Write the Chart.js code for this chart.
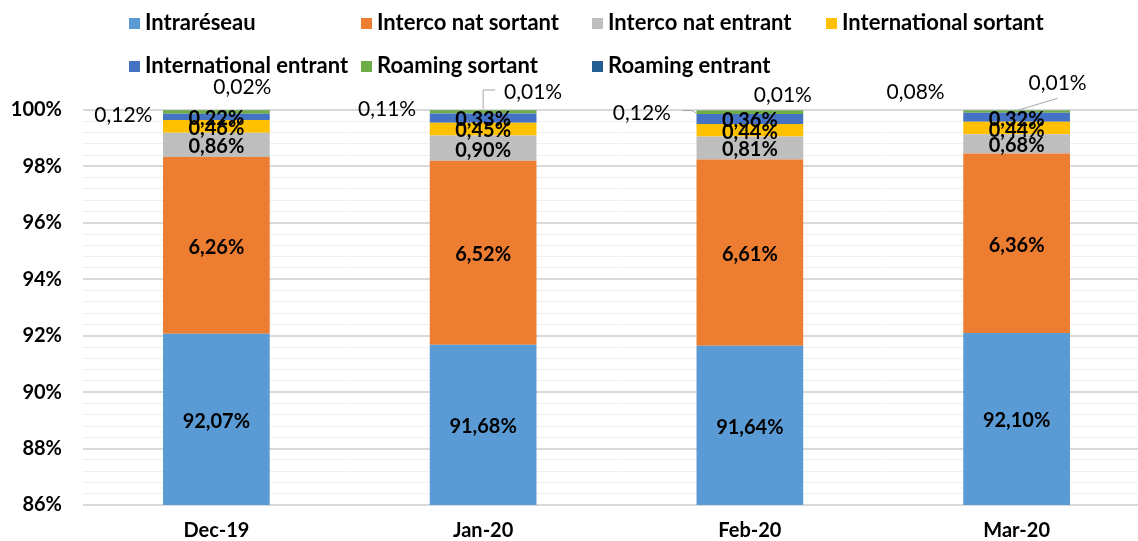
<!DOCTYPE html>
<html>
<head>
<meta charset="utf-8">
<script src="https://cdn.jsdelivr.net/npm/chart.js@4.4.0/dist/chart.umd.min.js"></script>
<style>
  html, body { margin: 0; padding: 0; background: #fff; overflow: hidden; }
  #wrap { width: 1138px; height: 541px; overflow: hidden; position: relative; }
  #box { width: 1150px; height: 541px; position: absolute; left: 0; top: 0; }
</style>
</head>
<body>
<div id="wrap"><div id="box"><canvas id="c" width="1150" height="541"></canvas></div></div>
<script>
// ---- data ----
const categories = ['Dec-19', 'Jan-20', 'Feb-20', 'Mar-20'];
const seriesNames = ['Intraréseau', 'Interco nat sortant', 'Interco nat entrant', 'International sortant', 'International entrant', 'Roaming sortant', 'Roaming entrant'];
const intrareseau        = [92.07, 91.68, 91.64, 92.10];
const intercoNatSortant  = [6.26, 6.52, 6.61, 6.36];
const intercoNatEntrant  = [0.86, 0.90, 0.81, 0.68];
const internationalSort  = [0.46, 0.45, 0.44, 0.44];
const internationalEntr  = [0.22, 0.33, 0.36, 0.32];
const roamingSortant     = [0.12, 0.11, 0.12, 0.08];
const roamingEntrant     = [0.02, 0.01, 0.01, 0.01];
const yMin = 86, yMax = 100;

const seriesValues = [intrareseau, intercoNatSortant, intercoNatEntrant, internationalSort, internationalEntr, roamingSortant, roamingEntrant];
const colors = ['#5B9BD5', '#ED7D31', '#BEBEBE', '#FFC000', '#4472C4', '#70AD47', '#255E91'];

const FONT = 'Lato, "DejaVu Sans", sans-serif';

// Outside-label placements (relative to the bar segment's top centre)
const outsideLabels = {
  5: [
    { dx: -93, dy: 5 },
    { dx: -96, dy: -1 },
    { dx: -108, dy: 3, leader: [[-68, 0], [-58, 0], [-53, 3]] },
    { dx: -101, dy: -18 }
  ],
  6: [
    { dx: 26, dy: -23 },
    { dx: 50, dy: -18, leader: [[0, -1], [0, -20], [12, -20]] },
    { dx: 33, dy: -15 },
    { dx: 41, dy: -27, leader: [[1, 0], [41, -12]] }
  ]
};

const fmt = v => v.toFixed(2).replace('.', ',') + '%';

const labelPlugin = {
  id: 'valueLabels',
  afterDatasetsDraw(chart) {
    const ctx = chart.ctx;
    ctx.save();
    ctx.textAlign = 'center';
    ctx.textBaseline = 'middle';
    chart.data.datasets.forEach((ds, i) => {
      const meta = chart.getDatasetMeta(i);
      meta.data.forEach((el, j) => {
        const v = ds.data[j];
        const top = Math.max(el.y, chart.chartArea.top);
        const o = outsideLabels[i] && outsideLabels[i][j];
        if (o) {
          if (o.leader) {
            ctx.strokeStyle = '#A6A6A6';
            ctx.lineWidth = 1;
            ctx.beginPath();
            o.leader.forEach((p, k) => {
              const px = el.x + p[0], py = top + p[1];
              if (k === 0) ctx.moveTo(px, py); else ctx.lineTo(px, py);
            });
            ctx.stroke();
          }
          ctx.font = '21px ' + FONT;
          ctx.fillStyle = '#000';
          ctx.fillText(fmt(v), el.x + o.dx, top + o.dy);
        } else {
          const bottom = Math.min(el.base, chart.chartArea.bottom);
          ctx.font = 'bold 20px ' + FONT;
          ctx.fillStyle = '#000';
          ctx.fillText(fmt(v), el.x, (top + bottom) / 2 + 2);
        }
      });
    });
    ctx.restore();
  }
};

const legendPlugin = {
  id: 'gridLegend',
  afterDraw(chart) {
    const ctx = chart.ctx;
    const cols = [129, 361, 592, 826];
    const rows = [23, 66];
    ctx.save();
    ctx.font = 'bold 22px ' + FONT;
    ctx.textBaseline = 'middle';
    ctx.textAlign = 'left';
    chart.data.datasets.forEach((ds, i) => {
      const x = cols[i % 4], y = rows[Math.floor(i / 4)];
      ctx.fillStyle = ds.backgroundColor;
      ctx.fillRect(x, y - 5, 11, 11);
      ctx.fillStyle = '#000';
      ctx.fillText(ds.label, x + 16, y);
    });
    ctx.restore();
  }
};

const isMajor = v => Math.abs(v / 2 - Math.round(v / 2)) < 1e-6;

new Chart(document.getElementById('c'), {
  type: 'bar',
  data: {
    labels: categories,
    datasets: seriesNames.map((name, i) => ({
      label: name,
      data: seriesValues[i],
      backgroundColor: colors[i],
      borderWidth: 0,
      barPercentage: 0.4,
      categoryPercentage: 1.0
    }))
  },
  options: {
    responsive: false,
    animation: false,
    devicePixelRatio: 1,
    layout: { padding: { top: 110, right: 0, left: 0, bottom: 0 } },
    plugins: { legend: { display: false }, tooltip: { enabled: false } },
    scales: {
      x: {
        stacked: true,
        grid: { display: false },
        border: { display: false },
        ticks: { color: '#000', font: { family: FONT, size: 20, weight: 'bold' }, padding: 6 },
        afterFit(s) { s.height = 36; }
      },
      y: {
        stacked: true,
        min: yMin,
        max: yMax,
        border: { display: false },
        grid: {
          drawTicks: false,
          color: c => isMajor(c.tick.value) ? '#D9D9D9' : '#F0F0F0',
          lineWidth: c => isMajor(c.tick.value) ? 2 : 1
        },
        ticks: {
          stepSize: 0.4,
          autoSkip: false,
          color: '#000',
          padding: 21,
          font: { family: FONT, size: 20, weight: 'bold' },
          callback: v => isMajor(v) ? Math.round(v) + '%' : ''
        },
        afterFit(s) { s.width = 83; }
      }
    }
  },
  plugins: [labelPlugin, legendPlugin]
});
</script>
</body>
</html>
